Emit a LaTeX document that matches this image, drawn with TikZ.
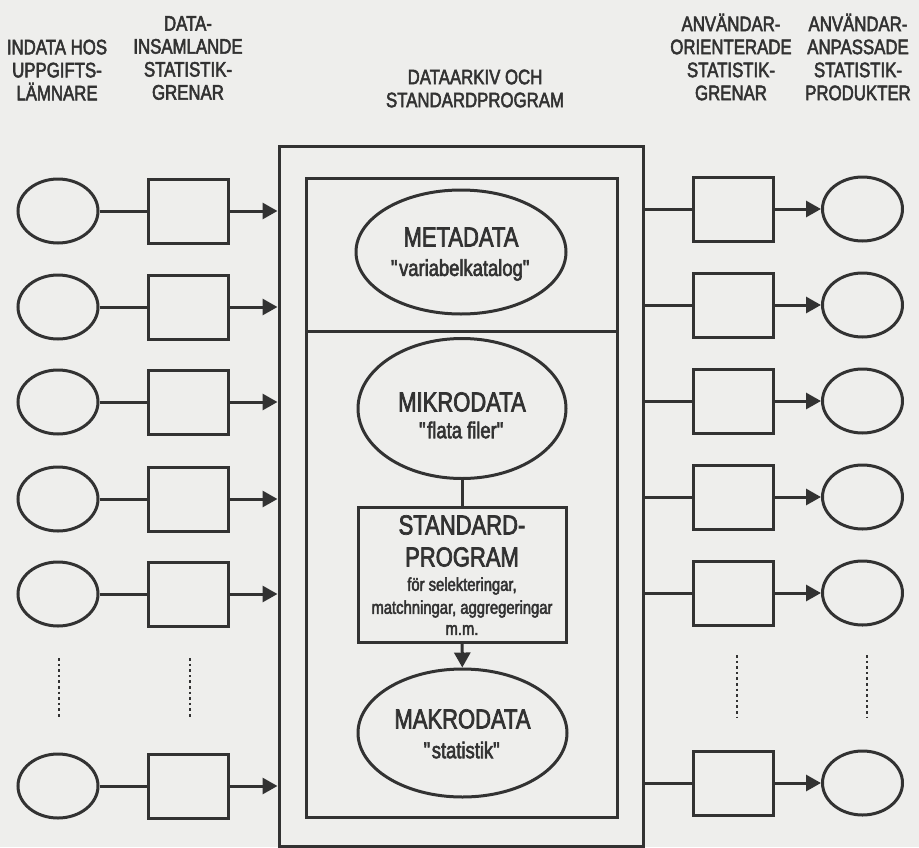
\documentclass[tikz,border=0pt]{standalone}
\usepackage{fontspec}
\setmainfont[FakeStretch=0.8,FakeBold=2.5]{Liberation Sans}
\usetikzlibrary{arrows.meta,shapes.geometric}
\definecolor{paper}{RGB}{238,238,236}
\definecolor{ink}{RGB}{50,50,50}
\newcommand{\qq}[1]{\textquotedbl#1\textquotedbl}
\begin{document}
\begin{tikzpicture}[x=1pt,y=-1pt,color=ink,line width=3pt,
  hdr/.style={font=\fontsize{21}{23}\selectfont,align=center,inner sep=0pt},
  bigtxt/.style={font=\fontsize{27.5}{30}\selectfont,inner sep=0pt},
  midtxt/.style={font=\fontsize{23}{26}\selectfont,inner sep=0pt},
  smltxt/.style={font=\fontsize{18.5}{22}\selectfont,inner sep=0pt},
  rowbox/.style={draw,rectangle,minimum width=80pt,minimum height=64pt,inner sep=0pt},
  rowoval/.style={draw,ellipse,minimum width=80pt,minimum height=64pt,inner sep=0pt},
  frame/.style={draw,rectangle,inner sep=0pt},
  dataoval/.style={draw,ellipse,inner sep=0pt},
  tip/.style={-{Triangle[length=15pt,width=16pt]}},
  dotline/.style={line width=2.8pt,dash pattern=on 2.6pt off 3pt}]

% page
\fill[paper] (0,0) rectangle (919,847);
\useasboundingbox (0,0) rectangle (919,847);

% column headings
\node[hdr] (h1) at (57,70) {INDATA HOS\\UPPGIFTS-\\LÄMNARE};
\node[hdr] (h2) at (188,58) {DATA-\\INSAMLANDE\\STATISTIK-\\GRENAR};
\node[hdr] (h3) at (475,88.5) {DATAARKIV OCH\\STANDARDPROGRAM};
\node[hdr] (h4) at (731,57) {ANVÄNDAR-\\ORIENTERADE\\STATISTIK-\\GRENAR};
\node[hdr] (h5) at (858,57) {ANVÄNDAR-\\ANPASSADE\\STATISTIK-\\PRODUKTER};

% archive frame and its two compartments
\node[frame,minimum width=364pt,minimum height=700pt] (archive) at (461,496) {};
\node[frame,minimum width=311pt,minimum height=153pt] (metaframe) at (461.5,254.5) {};
\node[frame,minimum width=311pt,minimum height=486pt] (dataframe) at (461.5,574) {};

% data stores
\node[dataoval,minimum width=210pt,minimum height=124pt] (meta) at (461,252) {};
\node[bigtxt] (metat) at (461,237) {METADATA};
\node[midtxt] (metas) at (461,270) {\qq{variabelkatalog}};

\node[dataoval,minimum width=208pt,minimum height=140pt] (mikro) at (462,408.5) {};
\node[bigtxt] (mikrot) at (462,402) {MIKRODATA};
\node[midtxt] (mikros) at (462,430) {\qq{flata filer}};

\node[frame,minimum width=208pt,minimum height=135pt] (std) at (462,574.5) {};
\node[bigtxt] (stdt1) at (462,525) {STANDARD-};
\node[bigtxt] (stdt2) at (462,557) {PROGRAM};
\node[smltxt] (stdt3) at (462,586) {för selekteringar,};
\node[smltxt] (stdt4) at (462,609) {matchningar, aggregeringar};
\node[smltxt] (stdt5) at (462,630) {m.m.};

\node[dataoval,minimum width=209pt,minimum height=128pt] (makro) at (462.5,733) {};
\node[bigtxt] (makrot) at (462.5,719) {MAKRODATA};
\node[midtxt] (makros) at (462.5,750) {\qq{statistik}};

\draw (mikro) -- (std);
\draw[tip] (std) -- (makro);

% data-collecting branches
\foreach \i/\y in {1/211,2/307,3/402,4/499,5/594,6/786} {
  \node[rowoval] (src\i) at (58,\y) {};
  \node[rowbox] (col\i) at (188,\y) {};
  \draw (src\i) -- (col\i);
  \draw[tip] (col\i.east) -- (col\i.east -| archive.west);
}

% user-oriented branches
\foreach \i/\y in {1/209,2/305,3/401,4/497,5/593,6/783} {
  \node[rowbox] (use\i) at (733.5,\y) {};
  \node[rowoval] (prod\i) at (862.5,\y) {};
  \draw (use\i.west -| archive.east) -- (use\i.west);
  \draw[tip] (use\i) -- (prod\i);
}

% continuation marks
\coordinate (la1) at (59,658);  \coordinate (lb1) at (59,719);
\coordinate (la2) at (190,658); \coordinate (lb2) at (190,719);
\coordinate (ra1) at (737,655); \coordinate (rb1) at (737,717);
\coordinate (ra2) at (867,655); \coordinate (rb2) at (867,717);
\draw[dotline] (la1) -- (lb1);
\draw[dotline] (la2) -- (lb2);
\draw[dotline] (ra1) -- (rb1);
\draw[dotline] (ra2) -- (rb2);
\end{tikzpicture}
\end{document}
